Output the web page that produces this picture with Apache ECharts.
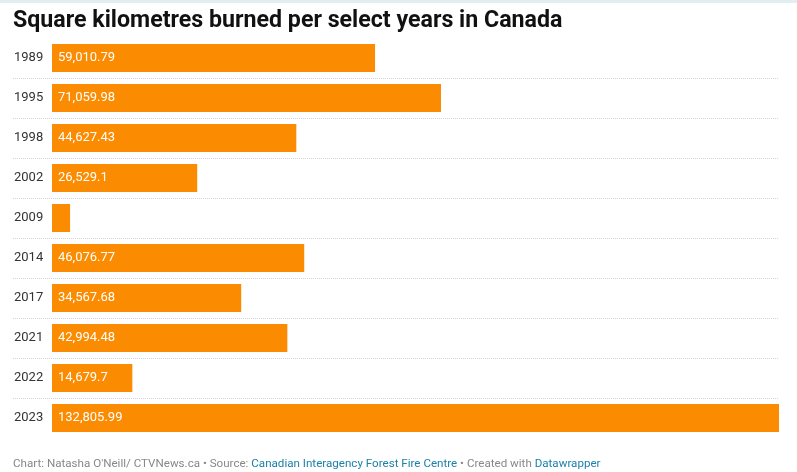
<!DOCTYPE html>
<html>
<head>
    <meta charset="utf-8">
    <title>Square kilometres burned</title>
    <script src="https://cdn.jsdelivr.net/npm/echarts@6/dist/echarts.min.js"></script>
</head>
<style>
    body { margin: 0; background: #fff; }
</style>
<body>
    <div id="main" style="width: 797px;height:472px;"></div>
    <script type="text/javascript">
        // data
        var years = ['1989', '1995', '1998', '2002', '2009', '2014', '2017', '2021', '2022', '2023'];
        var burned = [59010.79, 71059.98, 44627.43, 26529.1, 3300, 46076.77, 34567.68, 42994.48, 14679.7, 132805.99];

        var maxVal = 132805.99;
        // room on the left of zero for the year labels (39px out of 766px plot width)
        var minVal = -maxVal * 39 / 727;

        var myChart = echarts.init(document.getElementById('main'));

        var option = {
            animation: false,
            textStyle: { fontFamily: 'Roboto' },
            title: [{
                text: 'Square kilometres burned per select years in Canada',
                left: 8,
                top: 5,
                textStyle: { fontSize: 23.2, fontWeight: 'bold', color: '#111', fontFamily: 'Roboto' }
            }, {
                text: '{g|Chart: Natasha O\'Neill/ CTVNews.ca • Source: }{b|Canadian Interagency Forest Fire Centre}{g| • Created with }{b|Datawrapper}',
                left: 8,
                top: 453,
                textStyle: {
                    fontSize: 11.6,
                    fontWeight: 'normal',
                    rich: {
                        g: { color: '#888', fontSize: 11.6, fontWeight: 'normal', fontFamily: 'Roboto' },
                        b: { color: '#1b81a8', fontSize: 11.6, fontWeight: 'normal', fontFamily: 'Roboto' }
                    }
                }
            }],
            graphic: [{
                type: 'rect',
                left: 0, top: 0,
                shape: { width: 797, height: 3 },
                style: { fill: '#e2eff1' }
            }],
            grid: {
                left: 13,
                right: 18,
                top: 38,
                bottom: 34
            },
            xAxis: {
                type: 'value',
                min: minVal,
                max: maxVal,
                show: false
            },
            yAxis: {
                type: 'category',
                inverse: true,
                data: years,
                axisLine: { show: false },
                axisTick: { show: false },
                axisLabel: {
                    inside: true,
                    margin: 1,
                    color: '#333',
                    fontSize: 13,
                    fontFamily: 'Roboto'
                },
                splitLine: {
                    show: true,
                    showMinLine: false,
                    showMaxLine: false,
                    lineStyle: { color: '#d4d4d4', type: 'dotted', width: 1 }
                }
            },
            series: [{
                type: 'bar',
                data: burned,
                barCategoryGap: '30%',
                itemStyle: { color: '#fb8b00' },
                label: {
                    show: true,
                    position: 'insideLeft',
                    distance: 6,
                    color: '#fff',
                    fontSize: 13,
                    fontFamily: 'Roboto',
                    formatter: function (p) {
                        if (p.value < 10000) return '';
                        return p.value.toLocaleString('en-US', { maximumFractionDigits: 2 });
                    }
                }
            }]
        };

        myChart.setOption(option);
    </script>
</body>
</html>
